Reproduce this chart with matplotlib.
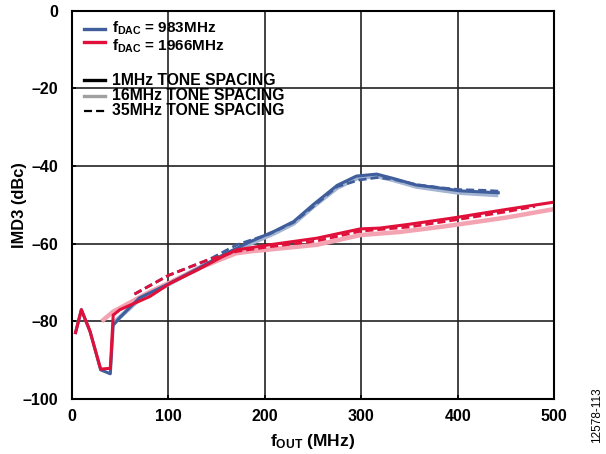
import matplotlib
matplotlib.use("Agg")
import matplotlib.pyplot as plt
from matplotlib.lines import Line2D

plt.rcParams['font.family'] = ['Liberation Sans', 'DejaVu Sans']
plt.rcParams['font.weight'] = 'bold'
plt.rcParams['mathtext.fontset'] = 'custom'
plt.rcParams['mathtext.rm'] = 'Liberation Sans:bold'
plt.rcParams['mathtext.it'] = 'Liberation Sans:bold'
plt.rcParams['mathtext.bf'] = 'Liberation Sans:bold'
plt.rcParams['lines.scale_dashes'] = False

# fDAC = 983 MHz
b1_f = [4, 10, 19, 30, 40, 43, 50, 70, 100, 130, 160, 185, 210, 230, 250, 275, 295, 316, 333, 357, 382, 402, 442]
b1_y = [-82.9, -77, -82.6, -92.5, -93.5, -81, -79, -74, -70.4, -66.5, -62.5, -59.5, -56.8, -54.3, -50, -45, -42.6, -42.1, -43.2, -44.9, -45.7, -46.4, -46.9]
b16_f = [43, 70, 100, 130, 160, 185, 210, 230, 250, 275, 295, 316, 333, 357, 382, 402, 442]
b16_y = [-80.5, -74.3, -70.5, -66.5, -62.8, -60.0, -57.3, -54.8, -50.5, -45.6, -43.2, -42.6, -43.6, -45.3, -46.2, -46.9, -47.5]
b35_f = [65, 100, 143, 171, 205, 230, 250, 275, 298, 316, 333, 357, 382, 402, 430, 442]
b35_y = [-73, -68.2, -64, -60.3, -57.5, -54.5, -50.5, -45.3, -43.6, -43, -43.4, -44.8, -45.6, -46.1, -46.3, -46.5]

# fDAC = 1966 MHz
r1_f = [4, 10, 19, 30, 40, 43, 50, 81, 102, 130, 155, 171, 205, 254, 299, 319, 350, 392, 400, 450, 500]
r1_y = [-82.9, -77, -82.6, -92.3, -92.1, -78.4, -77, -73.6, -70.2, -66.8, -63.5, -61.6, -60.3, -58.6, -56.2, -56, -55, -53.5, -53.2, -51.2, -49.3]
r16_f = [31, 43, 81, 102, 130, 170, 185, 254, 299, 340, 385, 450, 500]
r16_y = [-80, -77.5, -72.4, -70, -66.5, -62.5, -62, -60.3, -57.8, -57, -55.6, -53.3, -51.1]
r35_f = [65, 100, 143, 171, 205, 254, 299, 350, 400, 450, 480]
r35_y = [-73, -68.2, -64, -62, -60.8, -59.3, -56.8, -55.7, -53.8, -51.8, -50.4]

x_ticks = [0, 100, 200, 300, 400, 500]
y_ticks = [0, -20, -40, -60, -80, -100]

legend_labels = [r'$f_{DAC}$ = 983MHz', r'$f_{DAC}$ = 1966MHz',
                 '1MHz TONE SPACING', '16MHz TONE SPACING', '35MHz TONE SPACING']

BLUE = '#3F5E9B'
LBLUE = '#A3B5D3'
RED = '#E0103A'
PINK = '#F3A3B1'
DASH = (5.8, 2.9)

W, H = 606, 454
fig = plt.figure(figsize=(W / 100, H / 100), dpi=100)
L, R, T, B = 71.7, 554.3, 10.6, 399.0
ax = fig.add_axes([L / W, 1 - B / H, (R - L) / W, (B - T) / H])

ax.plot(b16_f, b16_y, color=LBLUE, lw=3.2, solid_capstyle='butt')
ax.plot(r16_f, r16_y, color=PINK, lw=3.2, solid_capstyle='butt')
ax.plot(b1_f, b1_y, color=BLUE, lw=2.2)
ax.plot(b35_f, b35_y, color=BLUE, lw=2.0, dashes=DASH)
ax.plot(r35_f, r35_y, color=RED, lw=2.0, dashes=DASH, dash_capstyle='butt')
ax.plot(r1_f, r1_y, color=RED, lw=2.2)

ax.set_xlim(0, 500)
ax.set_ylim(-100, 0)
ax.set_xticks(x_ticks)
ax.set_yticks(y_ticks)
ax.set_xticklabels([str(v) for v in x_ticks], fontsize=11.5, fontweight='bold')
ax.set_yticklabels([str(v).replace('-', '\u2013') for v in y_ticks], fontsize=11.5, fontweight='bold')
ax.tick_params(axis='y', direction='in', length=3, width=1.2, pad=10)
ax.tick_params(axis='x', direction='in', length=3, width=1.2, pad=7)
ax.grid(True, color='#222222', lw=1.2)
for s in ax.spines.values():
    s.set_linewidth(1.5)
    s.set_color('black')

ax.set_xlabel(r'$f_{OUT}$ (MHz)', fontsize=12.5, fontweight='bold')
ax.set_ylabel('IMD3 (dBc)', fontsize=11.8, fontweight='bold')
ax.xaxis.set_label_coords(0.5, (B - 432) / (B - T))
ax.yaxis.set_label_coords((27 - L) / (R - L), 0.5)

# manual legend
def ax_xy(px, py):
    return (px - L) / (R - L), (B - py) / (B - T)

handle_y = [29, 41.7, 80, 95.7, 111]
text_base = [32.6, 51.0, 85.0, 100.0, 115.0]
text_size = [11.0, 11.0, 11.3, 11.3, 11.3]
styles = [dict(color=BLUE, lw=2.4), dict(color=RED, lw=2.4),
          dict(color='black', lw=2.4), dict(color='#A0A0A0', lw=2.4),
          dict(color='black', lw=1.6, dashes=DASH)]
for lab, hy, by, fs, st in zip(legend_labels, handle_y, text_base, text_size, styles):
    x0, y0 = ax_xy(84, hy)
    x1, _ = ax_xy(105, hy)
    ax.add_line(Line2D([x0, x1], [y0, y0], transform=ax.transAxes, **st))
    tx, ty = ax_xy(111.5, by)
    ax.text(tx, ty, lab, transform=ax.transAxes, fontsize=fs, fontweight='bold',
            va='baseline', ha='left')

fig.text(597 / W, 1 - 415 / H, '12578-113', rotation=90, fontsize=8.5, fontweight='normal',
         ha='center', va='center')

fig.savefig('out.png', dpi=100)
